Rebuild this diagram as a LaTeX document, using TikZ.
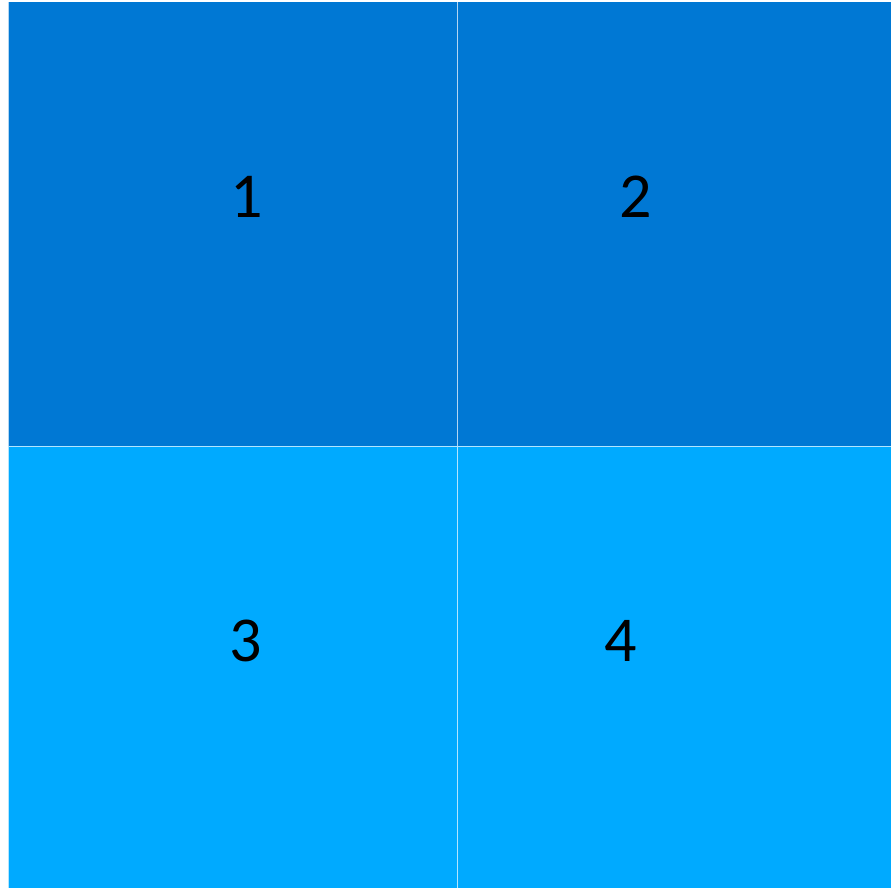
\documentclass[tikz,border=0pt]{standalone}
\usepackage{fontspec}
\setmainfont{Carlito}
\usepackage{xcolor}
\usepackage{tikz}
\usetikzlibrary{positioning}
\definecolor{DeepBlue}{HTML}{0078D4}
\definecolor{SkyBlue}{HTML}{00AAFF}

\begin{document}
\begin{tikzpicture}[
    x=1pt,y=-1pt,
    cell/.style={draw=white,draw opacity=0.7,line width=1pt,anchor=north west,
      minimum width=#1,minimum height=444pt,inner sep=0pt,outer sep=0pt},
    num/.style={font=\fontsize{64}{64}\selectfont,text=black,inner sep=0pt}
]
\useasboundingbox (0,0) rectangle (891,888);
\node[cell=449pt,fill=DeepBlue] (c1) at (8,2) {};
\node[cell=434pt,fill=DeepBlue] (c2) at (457,2) {};
\node[cell=449pt,fill=SkyBlue] (c3) at (8,446) {};
\node[cell=434pt,fill=SkyBlue] (c4) at (457,446) {};
\node[num] (n1) at (247,197) {1};
\node[num] (n2) at (636,197) {2};
\node[num] (n3) at (246,641) {3};
\node[num] (n4) at (621,641) {4};
\end{tikzpicture}
\end{document}
